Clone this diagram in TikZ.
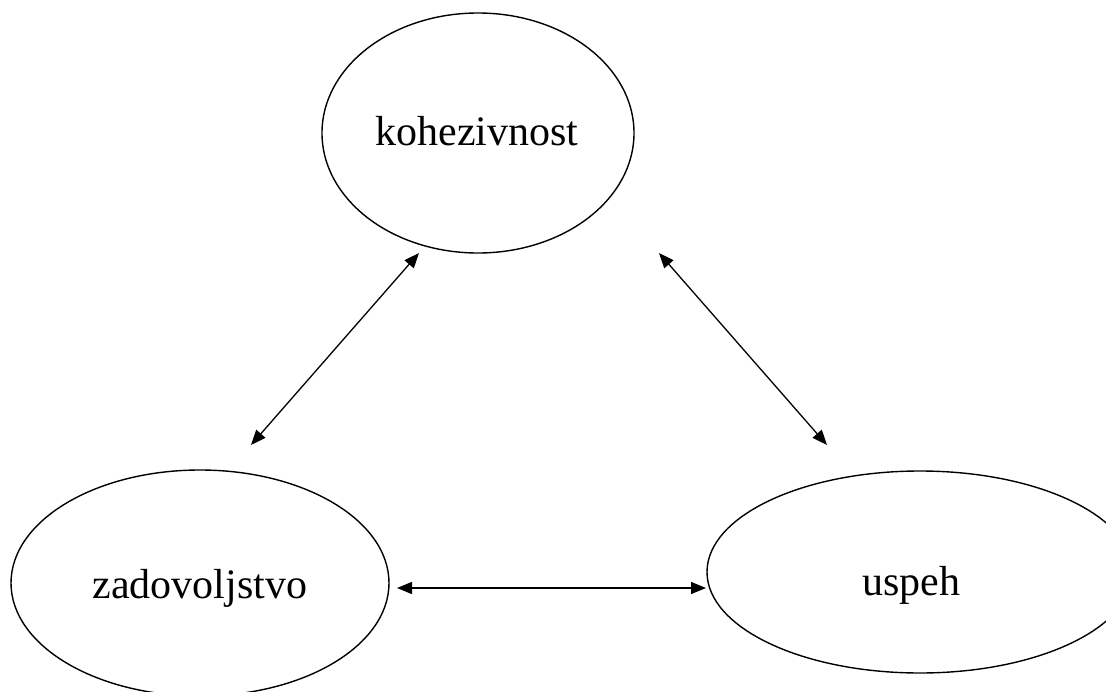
\documentclass[tikz,border=0pt]{standalone}
\usepackage{fontspec}
\setmainfont{Liberation Serif}
\usetikzlibrary{shapes.geometric,arrows.meta}
\tikzset{
  bubble/.style={ellipse, draw, line width=1.4pt, inner sep=0pt},
  caption/.style={anchor=base, font=\fontsize{42}{50}\selectfont},
  link/.style={line width=1.3pt, {Triangle[length=15pt,width=12pt]}-{Triangle[length=15pt,width=12pt]}}
}
\begin{document}
\begin{tikzpicture}[x=1pt,y=-1pt]
  \clip (0,0) rectangle (1106,691);
  \fill[white] (0,0) rectangle (1106,691);

  % the three ellipses
  \node[bubble, minimum width=312pt, minimum height=240pt] (koh) at (478,133) {};
  \node[bubble, minimum width=378pt, minimum height=226pt] (zad) at (200,583) {};
  \node[bubble, minimum width=426pt, minimum height=202pt] (usp) at (920,572) {};

  % their labels
  \node[caption] (kohT) at (477,145) {kohezivnost};
  \node[caption] (zadT) at (200,598) {zadovoljstvo};
  \node[caption] (uspT) at (911,595) {uspeh};

  % free ends of the double arrows
  \coordinate (kl) at (419,253);
  \coordinate (kr) at (659,253);
  \coordinate (zu) at (251,445);
  \coordinate (uu) at (827,445);
  \coordinate (zr) at (397,588);
  \coordinate (ul) at (706,588);

  \draw[link] (kl) -- (zu);
  \draw[link] (kr) -- (uu);
  \draw[link] (zr) -- (ul);
\end{tikzpicture}
\end{document}
